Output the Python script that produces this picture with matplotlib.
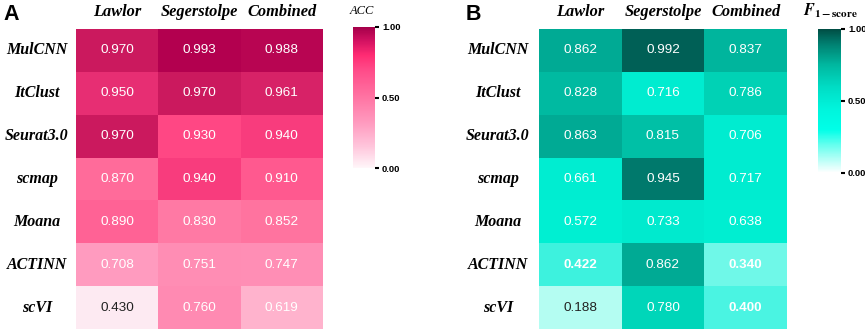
import numpy as np
import matplotlib
matplotlib.use("Agg")
import matplotlib.pyplot as plt
from matplotlib.colors import LinearSegmentedColormap, Normalize
from matplotlib.cm import ScalarMappable

methods = ["MulCNN", "ItClust", "Seurat3.0", "scmap", "Moana", "ACTINN", "scVI"]
datasets = ["Lawlor", "Segerstolpe", "Combined"]
acc = np.array([
    [0.970, 0.993, 0.988],
    [0.950, 0.970, 0.961],
    [0.970, 0.930, 0.940],
    [0.870, 0.940, 0.910],
    [0.890, 0.830, 0.852],
    [0.708, 0.751, 0.747],
    [0.430, 0.760, 0.619],
])
f1 = np.array([
    [0.862, 0.992, 0.837],
    [0.828, 0.716, 0.786],
    [0.863, 0.815, 0.706],
    [0.661, 0.945, 0.717],
    [0.572, 0.733, 0.638],
    [0.422, 0.862, 0.340],
    [0.188, 0.780, 0.400],
])
cbar_ticks = [0.0, 0.5, 1.0]
cbar_ticklabels = ["0.00", "0.50", "1.00"]

W, H = 865, 334
fig = plt.figure(figsize=(W / 100, H / 100), dpi=100)
plt.rcParams["mathtext.fontset"] = "stix"

def rect(x0, y0, x1, y1):
    return [x0 / W, (H - y1) / H, (x1 - x0) / W, (y1 - y0) / H]

def value_cmap(nodes, vmin, vmax):
    pts = [((v - vmin) / (vmax - vmin), c) for v, c in nodes]
    pts[0] = (0.0, pts[0][1])
    pts[-1] = (1.0, pts[-1][1])
    return LinearSegmentedColormap.from_list("c", pts)

acc_nodes = [(0.430, "#fdeaf2"), (0.619, "#ffb3cd"), (0.708, "#ff9bbf"),
             (0.76, "#ff8ab2"), (0.852, "#ff739f"), (0.91, "#ff5a90"),
             (0.935, "#ff4382"), (0.95, "#e92f74"), (0.97, "#cc1a5f"),
             (0.993, "#b3004f")]
f1_nodes = [(0.188, "#b4fdf2"), (0.34, "#6ff8e8"), (0.40, "#4af4e2"),
            (0.42, "#3ef2de"), (0.57, "#00efd2"), (0.73, "#00ecd0"),
            (0.78, "#00d6b9"), (0.815, "#00c0a6"), (0.862, "#00aa94"),
            (0.945, "#007b6d"), (0.992, "#006056")]

cb_a = LinearSegmentedColormap.from_list("cba", [
    (0.0, "#fff6f9"), (0.15, "#ffc6dc"), (0.3, "#ff9fc2"), (0.5, "#ff74a3"),
    (0.7, "#ff4a88"), (0.8, "#ff2c73"), (0.9, "#d41262"), (1.0, "#a5004a")])
cb_b = LinearSegmentedColormap.from_list("cbb", [
    (0.0, "#ffffff"), (0.1, "#b0fff6"), (0.2, "#60ffee"), (0.3, "#00ffe8"),
    (0.45, "#00f4dc"), (0.6, "#00dcc4"), (0.75, "#00b8a0"), (0.9, "#007f70"),
    (1.0, "#004d44")])

serif_bi = dict(family=["Liberation Serif", "DejaVu Serif"], style="italic", weight="bold")

def panel(data, nodes, ax_rect, cb_rect, cbmap, letter, letter_x, cblabel, cblabel_x,
          cblabel_size, dark_cells, bold_cells, label_center_px):
    ax = fig.add_axes(rect(*ax_rect))
    vmin, vmax = data.min(), data.max()
    cmap = value_cmap(nodes, vmin, vmax)
    nr, nc = data.shape
    ax.pcolormesh(np.arange(nc + 1), np.arange(nr + 1), data, cmap=cmap,
                  norm=Normalize(vmin, vmax), shading="flat", edgecolors="none")
    ax.set_xlim(0, nc)
    ax.set_ylim(nr, 0)
    ax.set_xticks([]); ax.set_yticks([])
    for s in ax.spines.values():
        s.set_visible(False)
    for i in range(nr):
        for j in range(nc):
            col = "#222222" if (i, j) in dark_cells else "white"
            wt = "bold" if (i, j) in bold_cells else "normal"
            ax.text(j + 0.5, i + 0.5, f"{data[i, j]:.3f}", ha="center", va="center",
                    color=col, fontsize=9.7, weight=wt,
                    family=["Liberation Sans", "DejaVu Sans"])
    axw = ax_rect[2] - ax_rect[0]
    xoff = (label_center_px - ax_rect[0]) / axw
    for i, m in enumerate(methods):
        ax.text(xoff * nc, i + 0.5, m, ha="center", va="center", fontsize=11.5, **serif_bi)
    for j, d in enumerate(datasets):
        ax.text(j + 0.5, -0.4, d, ha="center", va="center", fontsize=11.8, **serif_bi)
    fig.text(letter_x / W, 1 - 14 / H, letter, fontsize=15.5, weight="bold",
             family=["Liberation Sans", "DejaVu Sans"], ha="left", va="center")
    cax = fig.add_axes(rect(*cb_rect))
    cb = fig.colorbar(ScalarMappable(norm=Normalize(0, 1), cmap=cbmap), cax=cax,
                      ticks=cbar_ticks)
    cb.outline.set_visible(False)
    cb.set_ticklabels(cbar_ticklabels)
    cax.tick_params(length=3, width=1.5, pad=2, labelsize=6.8)
    for t in cax.get_yticklabels():
        t.set_fontweight("bold")
        t.set_family(["Liberation Sans", "DejaVu Sans"])
    fig.text(cblabel_x / W, 1 - 11 / H, cblabel, ha="center", va="center",
             fontsize=cblabel_size, style="italic", family=["Liberation Serif", "DejaVu Serif"])
    return ax

panel(acc, acc_nodes, (76, 29, 323, 329), (353, 27, 375, 168), cb_a, "A", 3,
      "ACC", 362, 9, dark_cells={(6, 0)}, bold_cells=set(), label_center_px=37)
panel(f1, f1_nodes, (539, 29, 787, 329), (818, 29, 841, 173), cb_b, "B", 466,
      r"$\boldsymbol{F}_{\mathbf{1-score}}$", 830, 11.5, dark_cells={(6, 0)},
      bold_cells={(5, 0), (5, 2), (6, 2)}, label_center_px=498)

fig.savefig("out.png", dpi=100)
